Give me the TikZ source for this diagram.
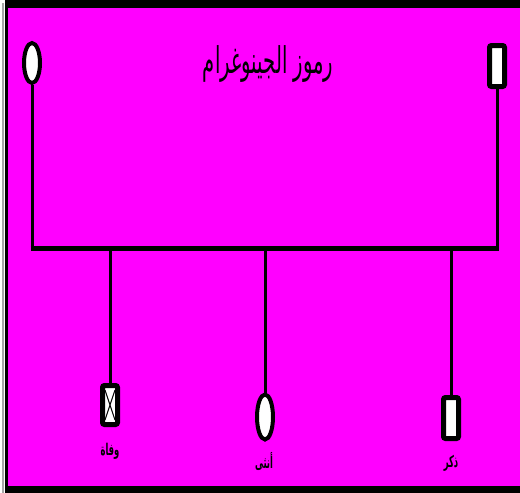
\documentclass[tikz,border=0pt]{standalone}
\usepackage{fontspec}
\newfontfamily\arabicfont[Script=Arabic]{DejaVu Sans}
\TeXXeTstate=1
\usetikzlibrary{shapes.geometric}
\definecolor{mag}{HTML}{FF00FF}
\begin{document}
\begin{tikzpicture}[x=1pt,y=-1pt,
  fem/.style={ellipse,draw=black,line width=4pt,fill=white,minimum width=16pt,minimum height=40pt,inner sep=0pt},
  mal/.style={rectangle,rounded corners=2pt,draw=black,line width=5pt,fill=white,minimum width=15pt,minimum height=41pt,inner sep=0pt},
  lnk/.style={line width=3pt},
  lbl/.style={font=\arabicfont\bfseries\fontsize{12}{15}\selectfont,xscale=0.7,yscale=1.35,inner sep=0pt}]
\useasboundingbox (0,0) rectangle (520,493);
\fill[white] (0,0) rectangle (520,493);
\fill[black] (5,0) rectangle (520,493);
\fill[gray!70] (2,3) rectangle (4,493);
\fill[mag] (8,8) rectangle (520,486);
\node[font=\arabicfont\fontsize{23}{28}\selectfont,xscale=0.85,yscale=1.6,inner sep=0pt] (title) at (268,64) {\beginR رموز الجينوغرام\endR};
\node[fem] (gm) at (32,63) {};
\node[mal] (gf) at (497,66) {};
\coordinate (jl) at (32,248);
\coordinate (jr) at (497,248);
\coordinate (c1) at (110,248);
\coordinate (c2) at (265,248);
\coordinate (c3) at (451,248);
\draw[lnk] (gm.south) -- (jl);
\draw[lnk] (gf.south) -- (jr);
\draw[line width=5pt] ([xshift=-1.5pt]jl) -- ([xshift=1.5pt]jr);
\node[mal,minimum height=39pt] (d) at (110,405) {};
\draw[line width=1pt] ([shift={(-5pt,-15pt)}]d.center) -- ([shift={(5pt,15pt)}]d.center)
  ([shift={(5pt,-15pt)}]d.center) -- ([shift={(-5pt,15pt)}]d.center);
\node[fem,minimum height=45pt] (f) at (265,417) {};
\node[mal] (m) at (451,418) {};
\draw[lnk] (c1) -- (d.north);
\draw[lnk] (c2) -- (f.north);
\draw[lnk] (c3) -- (m.north);
\node[lbl] (dl) at (110,451) {\beginR وفاة\endR};
\node[lbl] (fl) at (264,461) {\beginR أنثى\endR};
\node[lbl] (ml) at (451,463) {\beginR ذكر\endR};
\end{tikzpicture}
\end{document}
